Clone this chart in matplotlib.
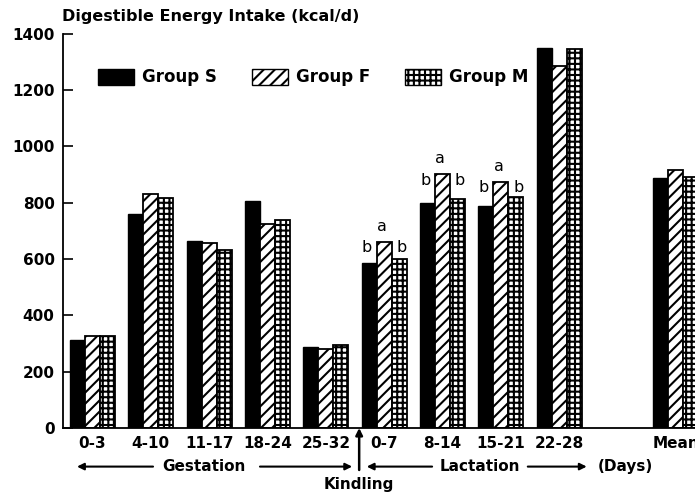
import matplotlib
matplotlib.use("Agg")
import matplotlib.pyplot as plt
from matplotlib.patches import Patch
import numpy as np

# values (kcal/d)
periods = ["0-3", "4-10", "11-17", "18-24", "25-32", "0-7", "8-14", "15-21", "22-28", "Mean"]
positions = [0, 1, 2, 3, 4, 5, 6, 7, 8, 10]
group_s = [314, 761, 663, 806, 288, 584, 799, 788, 1349, 889]
group_f = [327, 829, 657, 723, 280, 660, 900, 873, 1284, 915]
group_m = [327, 817, 633, 737, 295, 599, 814, 820, 1344, 891]

# significance letters (S, F, M) for the lactation periods
letter_idx = [5, 6, 7]
letters = [("b", "a", "b"), ("b", "a", "b"), ("b", "a", "b")]

plt.rcParams["font.family"] = ["DejaVu Sans"]
plt.rcParams["hatch.linewidth"] = 1.5

fig = plt.figure(figsize=(6.95, 4.93), dpi=100)
ax = fig.add_axes([63 / 695, 65 / 493, 632 / 695, 394.4 / 493])

w = 0.257
x = np.array(positions, dtype=float)
ax.bar(x - w, group_s, w, color="black", edgecolor="black", linewidth=1.0)
ax.bar(x, group_f, w, color="white", edgecolor="black", linewidth=1.3, hatch="///")
ax.bar(x + w, group_m, w, color="white", edgecolor="black", linewidth=1.3, hatch="+++")

for k, i in enumerate(letter_idx):
    top = group_f[i]
    ls, lf, lm = letters[k]
    ax.text(x[i] - w - 0.04, top - 20, ls, ha="center", va="center", fontsize=11.5)
    ax.text(x[i] - 0.04, top + 55, lf, ha="center", va="center", fontsize=11.5)
    ax.text(x[i] + w + 0.04, top - 20, lm, ha="center", va="center", fontsize=11.5)

ax.set_xlim(-0.506, 10.326)
ax.set_ylim(0, 1400)
ax.set_yticks(range(0, 1401, 200))
ax.set_xticks(x)
ax.set_xticklabels(periods, fontsize=11, fontweight="bold")
for lbl in ax.get_yticklabels():
    lbl.set_fontweight("bold")
    lbl.set_fontsize(11)
ax.tick_params(axis="y", direction="in", length=7, width=1.2, pad=6)
ax.tick_params(axis="x", length=0, pad=6)
ax.spines["top"].set_visible(False)
ax.spines["right"].set_visible(False)
ax.spines["left"].set_linewidth(1.3)
ax.spines["bottom"].set_linewidth(1.3)

handles = [
    Patch(facecolor="black", edgecolor="black", label="Group S"),
    Patch(facecolor="white", edgecolor="black", hatch="///", label="Group F"),
    Patch(facecolor="white", edgecolor="black", hatch="+++", label="Group M"),
]
leg = ax.legend(
    handles=handles,
    ncol=3,
    loc="center left",
    bbox_to_anchor=(0.0554, 0.889),
    frameon=False,
    borderpad=0,
    borderaxespad=0,
    handlelength=2.15,
    handleheight=1.08,
    handletextpad=0.48,
    columnspacing=2.1,
    prop={"weight": "bold", "size": 12},
)

fig.text(62 / 695, 1 - 16 / 493, "Digestible Energy Intake (kcal/d)",
         ha="left", va="center", fontsize=11.5, fontweight="bold")

# phase arrows below the axis
arrow = dict(arrowstyle="-|>", lw=1.5, color="black", mutation_scale=10, shrinkA=0, shrinkB=0)
yb = -137
for x0, x1 in [(1.037, -0.266), (2.87, 4.45), (5.82, 4.70), (7.46, 8.47)]:
    ax.annotate("", xy=(x1, yb), xytext=(x0, yb), arrowprops=arrow, annotation_clip=False)
ax.text(1.91, yb, "Gestation", ha="center", va="center", fontsize=11, fontweight="bold", clip_on=False)
ax.text(6.64, yb, "Lactation", ha="center", va="center", fontsize=11, fontweight="bold", clip_on=False)
ax.text(9.13, yb, "(Days)", ha="center", va="center", fontsize=11, fontweight="bold", clip_on=False)

ax.annotate("", xy=(4.57, 0), xytext=(4.57, -149), arrowprops=dict(arrow, lw=1.8),
            annotation_clip=False)
ax.text(4.57, -199, "Kindling", ha="center", va="center", fontsize=11, fontweight="bold", clip_on=False)

fig.savefig("out.png", dpi=100)
